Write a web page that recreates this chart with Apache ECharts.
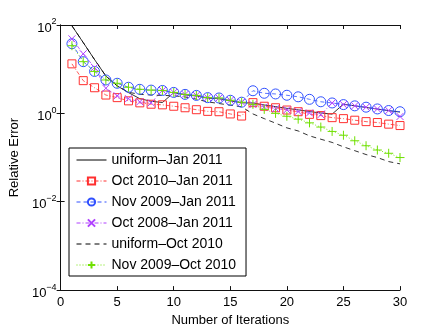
<!DOCTYPE html>
<html><head><meta charset="utf-8">
<script src="https://cdn.jsdelivr.net/npm/echarts@6/dist/echarts.min.js"></script>
<style>html,body{margin:0;padding:0;background:#fff}#c{width:443px;height:332px}</style>
</head><body><div id="c"></div>
<script>
const iterations = [1,2,3,4,5,6,7,8,9,10,11,12,13,14,15,16,17,18,19,20,21,22,23,24,25,26,27,28,29,30];
const uniformJan2011 = [96,40,16.5,7.0,4.2,2.95,2.15,1.88,1.76,2.95,2.62,2.48,2.2,2.15,1.92,1.74,1.72,1.55,1.42,1.3,1.2,1.1,1.02,0.96,1.62,1.48,1.36,1.25,1.15,1.07];
const oct2010Jan2011 = [13.2,5.5,3.8,2.6,2.27,1.92,1.73,1.61,1.56,1.45,1.34,1.21,1.11,1.09,0.97,0.87,1.75,1.45,1.34,1.19,1.09,0.95,0.89,0.80,0.76,0.70,0.65,0.62,0.57,0.53];
const nov2009Jan2011 = [37.8,14.8,8.9,5.7,4.8,3.9,3.5,3.36,3.3,2.98,2.69,2.55,2.27,2.23,1.98,1.79,3.25,2.85,2.75,2.57,2.37,2.08,1.83,1.72,1.58,1.48,1.38,1.26,1.16,1.09];
const oct2008Jan2011 = [48.6,22.3,10.9,3.7,2.5,2.15,1.82,1.73,3.3,2.98,2.69,2.55,2.27,2.23,1.98,1.79,1.58,1.4,1.28,1.2,1.1,1.02,0.93,1.72,1.58,1.48,1.38,1.26,1.16,0.85];
const uniformOct2010 = [96,40,16.5,7.0,4.2,3.0,2.7,2.6,2.55,2.5,2.35,2.1,1.82,1.67,1.53,1.41,0.97,0.76,0.6,0.47,0.40,0.31,0.26,0.22,0.175,0.143,0.117,0.10,0.081,0.072];
const nov2009Oct2010 = [34,14.8,8.9,5.7,4.8,3.9,3.5,3.36,3.3,2.98,2.69,2.55,2.27,2.23,1.98,1.79,1.6,1.23,1.0,0.86,0.74,0.61,0.49,0.39,0.32,0.24,0.185,0.148,0.125,0.10];
const seriesNames = ['uniform–Jan 2011','Oct 2010–Jan 2011','Nov 2009–Jan 2011','Oct 2008–Jan 2011','uniform–Oct 2010','Nov 2009–Oct 2010'];
const xTicks = [0,5,10,15,20,25,30];

const FONT = '"Liberation Sans", Arial, Helvetica, sans-serif';
const pairs = a => a.map((v,i)=>[iterations[i], v]);
const XSYM = 'path://M0 0L10 10M10 0L0 10';
const PSYM = 'path://M5 0L5 10M0 5L10 5';
function mk(name, data, color, lineType, symbol, size){
  return {
    name, type:'line', data: pairs(data), symbol: symbol || 'circle', symbolSize: size || 1,
    showSymbol: !!symbol, silent:true, animation:false,
    lineStyle:{color, width:0.8, type: lineType},
    itemStyle: symbol ? {color:'rgba(0,0,0,0)', borderColor: color, borderWidth: 1}
                      : {color:'rgba(0,0,0,0)', borderColor:'rgba(0,0,0,0)', borderWidth: 0},
    emphasis:{disabled:true}
  };
}
const chart = echarts.init(document.getElementById('c'), null, {renderer:'canvas'});
const axisLine = {show:true, lineStyle:{color:'#111', width:1}};
chart.setOption({
  animation:false,
  textStyle:{fontFamily:FONT},
  grid:{left:58, right:43, top:25, bottom:37},
  xAxis:[{
    type:'value', min:0, max:30, interval:5, position:'bottom',
    axisLine, axisTick:{inside:true, length:4, lineStyle:{color:'#111'}},
    axisLabel:{color:'#000', fontSize:13, fontFamily:FONT, margin:6},
    splitLine:{show:false},
    name:'Number of Iterations', nameLocation:'middle', nameGap:23,
    nameTextStyle:{color:'#000', fontSize:13, fontFamily:FONT}
  },{
    type:'value', min:0, max:30, interval:5, position:'top',
    axisLine, axisTick:{inside:true, length:4, lineStyle:{color:'#111'}},
    axisLabel:{show:false}, splitLine:{show:false}
  }],
  yAxis:[{
    type:'log', logBase:10, min:1e-4, max:1e2, interval:2,
    axisLine, axisTick:{inside:true, length:4, lineStyle:{color:'#111'}},
    minorTick:{show:false}, splitLine:{show:false},
    axisLabel:{
      margin:4,
      formatter: v => { const e = Math.round(Math.log10(v)); return '{b|10}{s|' + (e<0 ? '−'+(-e) : e) + '}'; },
      rich:{
        b:{fontSize:13, color:'#000', fontFamily:FONT, padding:[6,0,0,0]},
        s:{fontSize:9, color:'#000', fontFamily:FONT, padding:[0,0,6,0]}
      }
    },
    name:'Relative Error', nameLocation:'middle', nameGap:36, nameRotate:90,
    nameTextStyle:{color:'#000', fontSize:13, fontFamily:FONT}
  },{
    type:'log', logBase:10, min:1e-4, max:1e2, interval:2, position:'right',
    axisLine, axisTick:{inside:true, length:4, lineStyle:{color:'#111'}},
    minorTick:{show:false}, splitLine:{show:false}, axisLabel:{show:false}
  }],
  legend:{
    orient:'vertical', left:69, top:148, itemWidth:30, itemHeight:9, itemGap:7,
    padding:[5,10,4,7], borderColor:'#000', borderWidth:1, backgroundColor:'#fff',
    textStyle:{fontSize:14, color:'#000', fontFamily:FONT},
    lineStyle:{width:1},
    data: seriesNames, selectedMode:false
  },
  series:[
    mk(seriesNames[0], uniformJan2011, '#000000', 'solid'),
    mk(seriesNames[1], oct2010Jan2011, '#ff3030', [4,2,1,2], 'rect', 8),
    mk(seriesNames[2], nov2009Jan2011, '#3050ff', [4,3], 'circle', 10),
    mk(seriesNames[3], oct2008Jan2011, '#b040ff', [4,2,1,2], XSYM, 7),
    mk(seriesNames[4], uniformOct2010, '#000000', [5,4]),
    mk(seriesNames[5], nov2009Oct2010, '#70e000', [1,2], PSYM, 9)
  ]
});
</script></body></html>
